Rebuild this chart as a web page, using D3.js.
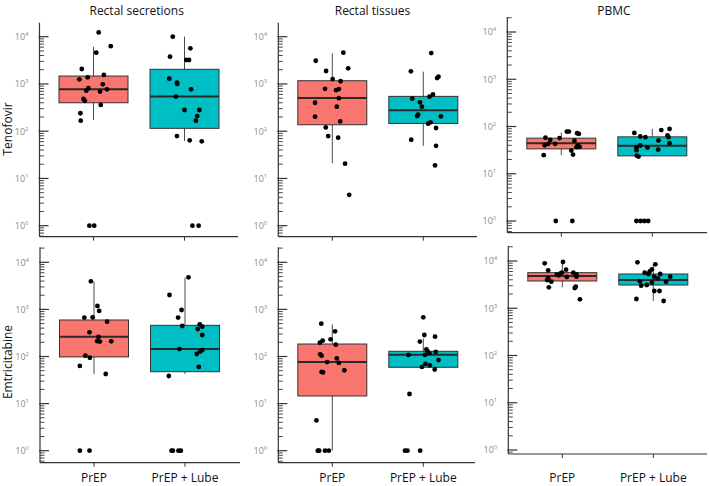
<!DOCTYPE html>
<html>
<head>
<meta charset="utf-8">
<script src="https://cdn.jsdelivr.net/npm/d3@7"></script>
<style>
  html, body { margin: 0; padding: 0; background: #fff; }
  svg { display: block; font-family: "Open Sans", "DejaVu Sans", sans-serif; }
</style>
</head>
<body>
<svg id="chart" width="709" height="486"></svg>
<script>
// ---------- data ----------
const drugs = ["Tenofovir", "Emtricitabine"];
const compartments = ["Rectal secretions", "Rectal tissues", "PBMC"];
const groups = ["PrEP", "PrEP + Lube"];
const tickExponents = [0, 1, 2, 3, 4];

// values (box stats: [whiskerLow, q1, median, q3, whiskerHigh]); jitter as fraction of half box width
const tfvSecPrep = [12300, 6300, 4600, 2070, 1250, 1380, 1550, 980, 770, 810, 720, 690, 480, 440, 360, 240, 167, 1, 1];
const tfvSecPrepJit = [0.15, 0.50, 0.08, -0.34, -0.41, -0.17, 0.30, 0.27, 0.39, -0.15, -0.21, 0.19, -0.29, -0.25, 0.21, -0.38, -0.37, -0.12, 0.02];
const tfvSecPrepBox = [172, 400, 770, 1470, 6100];

const tfvSecLube = [10000, 3780, 5670, 3210, 3210, 1290, 1060, 1000, 770, 540, 281, 281, 209, 167, 79, 64, 61, 1, 1];
const tfvSecLubeJit = [-0.34, -0.42, 0.17, 0.05, 0.13, -0.44, -0.22, -0.21, 0.19, -0.25, 0, 0.43, 0.37, 0.33, -0.22, 0.15, 0.50, 0.23, 0.41];
const tfvSecLubeBox = [62, 115, 540, 2040, 10000];

const tfvTisPrep = [4590, 3100, 2140, 1880, 1270, 1140, 790, 780, 740, 500, 400, 330, 203, 161, 120, 79, 73, 20.5, 4.5];
const tfvTisPrepJit = [0.32, -0.48, 0.46, -0.18, 0.01, 0.24, -0.21, 0.19, 0.11, 0.19, -0.50, 0.13, -0.50, 0.23, -0.19, -0.12, 0.17, 0.37, 0.49];
const tfvTisPrepBox = [21, 137, 504, 1170, 4440];

const tfvTisLube = [4510, 1850, 1420, 1330, 600, 537, 487, 408, 330, 223, 209, 206, 154, 144, 117, 66, 49, 18.9];
const tfvTisLubeJit = [0.23, -0.36, 0.44, 0.40, 0.28, 0.18, -0.32, -0.10, -0.04, -0.15, -0.18, 0.51, 0.21, 0.14, 0.37, -0.35, 0.37, 0.34];
const tfvTisLubeBox = [49, 146, 276, 546, 1820];

const tfvPbmcPrep = [78, 78, 72, 70, 58, 57, 52, 50, 43, 43, 40, 40, 36.5, 37, 31, 24.7, 25.5, 1, 1];
const tfvPbmcPrepJit = [0.16, 0.22, 0.46, 0.51, -0.46, -0.05, -0.32, 0.38, -0.38, -0.18, -0.48, 0.48, 0.44, 0.53, 0.29, -0.51, 0.34, -0.16, 0.32];
const tfvPbmcPrepBox = [24.7, 33.6, 44.3, 56.6, 74.6];

const tfvPbmcLube = [89, 84, 73, 64.5, 59.4, 61.4, 59.4, 50.5, 44.3, 39.6, 35.9, 35.9, 32.5, 31.5, 24.3, 23.1, 1, 1, 1, 1];
const tfvPbmcLubeJit = [0.50, 0.26, -0.52, 0.44, 0.47, -0.35, -0.20, 0.18, 0.50, -0.35, -0.46, -0.14, 0.17, -0.46, -0.45, -0.40, -0.46, -0.34, -0.23, -0.12];
const tfvPbmcLubeBox = [23.9, 23.9, 38.9, 60.4, 89];

const ftcSecPrep = [3950, 1180, 930, 670, 680, 550, 326, 213, 207, 260, 210, 104, 94, 63, 42.5, 1, 1];
const ftcSecPrepJit = [-0.09, 0.10, 0.15, -0.28, -0.04, 0.38, -0.13, 0.09, 0.17, 0.13, 0.50, -0.25, -0.12, -0.41, 0.34, -0.41, -0.13];
const ftcSecPrepBox = [42.5, 98, 264, 596, 3880];

const ftcSecLube = [4800, 2020, 970, 670, 444, 482, 430, 384, 286, 144, 137, 127, 113, 60, 38.5, 1, 1, 1, 1];
const ftcSecLubeJit = [0.10, -0.45, -0.10, -0.20, -0.08, 0.43, 0.50, 0.37, 0.50, -0.16, 0.50, 0.44, 0.34, 0.40, -0.47, -0.39, -0.35, -0.19, -0.12];
const ftcSecLubeBox = [42.5, 47.6, 144, 459, 4725];

const ftcTisPrep = [498, 217, 197, 232, 343, 178, 111, 104, 91, 76, 73, 51, 47, 46, 4.4, 1, 1, 1, 1];
const ftcTisPrepJit = [-0.32, -0.28, -0.36, -0.05, 0.08, 0.10, -0.35, -0.31, 0.13, -0.15, 0.19, 0.35, -0.31, -0.27, -0.46, -0.42, -0.38, -0.21, -0.10];
const ftcTisPrepBox = [1, 14.5, 76, 184, 482];

const ftcTisLube = [679, 286, 264, 207, 142, 127, 117, 125, 108, 108, 84, 70, 65, 60, 53, 16, 1, 1, 1];
const ftcTisLubeJit = [0, 0.03, 0.34, -0.10, 0.09, 0.13, 0.18, 0.36, -0.43, 0.05, 0.44, 0.06, 0.19, -0.04, 0.33, -0.40, -0.53, -0.46, -0.09];
const ftcTisLubeBox = [59, 59, 109, 129, 243];

const ftcPbmcPrep = [9520, 8930, 6340, 5140, 6560, 5480, 5660, 4975, 5660, 5220, 4585, 4660, 4300, 3960, 3655, 2865, 2685, 2773, 1545];
const ftcPbmcPrepJit = [0.02, -0.51, -0.41, -0.16, 0.11, -0.05, -0.01, -0.10, 0.32, 0.41, 0.13, 0.41, -0.41, -0.44, -0.32, 0.39, 0.36, -0.39, 0.51];
const ftcPbmcPrepBox = [2773, 3775, 4815, 5664, 9370];

const ftcPbmcLube = [9370, 8500, 6665, 6040, 5664, 5310, 5310, 4660, 4660, 4300, 3715, 3475, 3655, 3005, 3105, 2317, 2317, 1570, 1423];
const ftcPbmcLubeJit = [-0.46, 0.06, -0.04, -0.10, -0.25, 0.20, -0.14, 0.02, 0.49, 0.13, -0.39, -0.04, 0.37, -0.35, -0.19, 0.03, 0.18, -0.49, 0.30];
const ftcPbmcLubeBox = [1423, 3105, 3963, 5310, 8230];

const groupColors = ["#F8766D", "#00BFC4"];

// ---------- layout ----------
const panelData = [
  [[tfvSecPrep, tfvSecPrepJit, tfvSecPrepBox], [tfvSecLube, tfvSecLubeJit, tfvSecLubeBox]],
  [[tfvTisPrep, tfvTisPrepJit, tfvTisPrepBox], [tfvTisLube, tfvTisLubeJit, tfvTisLubeBox]],
  [[tfvPbmcPrep, tfvPbmcPrepJit, tfvPbmcPrepBox], [tfvPbmcLube, tfvPbmcLubeJit, tfvPbmcLubeBox]],
  [[ftcSecPrep, ftcSecPrepJit, ftcSecPrepBox], [ftcSecLube, ftcSecLubeJit, ftcSecLubeBox]],
  [[ftcTisPrep, ftcTisPrepJit, ftcTisPrepBox], [ftcTisLube, ftcTisLubeJit, ftcTisLubeBox]],
  [[ftcPbmcPrep, ftcPbmcPrepJit, ftcPbmcPrepBox], [ftcPbmcLube, ftcPbmcLubeJit, ftcPbmcLubeBox]]
];
// pixel geometry of each panel: axis x, axis end, top, y(10^4), y(10^0), bottom
const panelGeom = [
  {ax: 39.5,  xEnd: 238, top: 22.7, y4: 36.7, y0: 225.7, bot: 236.7},
  {ax: 278.3, xEnd: 477, top: 22.7, y4: 36.7, y0: 225.7, bot: 236.7},
  {ax: 507.3, xEnd: 707, top: 17,   y4: 32.0, y0: 221.0, bot: 232.7},
  {ax: 40,    xEnd: 240, top: 247.3, y4: 262.3, y0: 450.7, bot: 462.7},
  {ax: 278.3, xEnd: 475, top: 247.3, y4: 262.3, y0: 450.7, bot: 462.7},
  {ax: 508.3, xEnd: 707, top: 246,  y4: 261.0, y0: 450.0, bot: 454}
];
const halfBox = 34.5;

const svg = d3.select("#chart");

panelData.forEach((pd, i) => {
  const g = panelGeom[i];
  const dec = (g.y0 - g.y4) / 4;
  const loExp = -(g.bot - g.y0) / dec;
  const hiExp = 4 + (g.y4 - g.top) / dec;
  const y = d3.scaleLog().domain([Math.pow(10, loExp), Math.pow(10, hiExp)]).range([g.bot, g.top]);
  const x = d3.scalePoint().domain(groups).range([g.ax + 54, g.ax + 145]);
  const pg = svg.append("g");

  // boxes
  groups.forEach((grp, gi) => {
    const [vals, jit, box] = pd[gi];
    const cx = x(grp);
    pg.append("line")
      .attr("x1", cx).attr("x2", cx)
      .attr("y1", y(box[0])).attr("y2", y(box[4]))
      .attr("stroke", "#4d4d4d").attr("stroke-width", 1);
    pg.append("rect")
      .attr("x", cx - halfBox).attr("width", halfBox * 2)
      .attr("y", y(box[3])).attr("height", Math.max(1, y(box[1]) - y(box[3])))
      .attr("fill", groupColors[gi]).attr("stroke", "#333").attr("stroke-width", 1);
    pg.append("line")
      .attr("x1", cx - halfBox).attr("x2", cx + halfBox)
      .attr("y1", y(box[2])).attr("y2", y(box[2]))
      .attr("stroke", "#2a2a2a").attr("stroke-width", 2);
    pg.selectAll(null).data(vals.map((v, k) => ({v, j: jit[k]}))).enter()
      .append("circle")
      .attr("cx", d => cx + d.j * halfBox)
      .attr("cy", d => y(d.v))
      .attr("r", 2.4)
      .attr("fill", "#000");
  });

  // y axis line
  pg.append("line").attr("x1", g.ax).attr("x2", g.ax).attr("y1", g.top).attr("y2", g.bot)
    .attr("stroke", "#333").attr("stroke-width", 1.2);
  // minor ticks
  const dom = y.domain();
  const minor = [];
  for (let e = -1; e <= 5; e++) for (let m = 2; m <= 9; m++) {
    const v = m * Math.pow(10, e);
    if (v >= dom[0] && v <= dom[1]) minor.push(v);
  }
  pg.selectAll(null).data(minor).enter().append("line")
    .attr("x1", g.ax).attr("x2", g.ax + 4.5)
    .attr("y1", d => y(d)).attr("y2", d => y(d))
    .attr("stroke", "#333").attr("stroke-width", 0.9);
  // major ticks and labels
  tickExponents.forEach(e => {
    const yy = y(Math.pow(10, e));
    pg.append("line").attr("x1", g.ax - 1).attr("x2", g.ax + 9)
      .attr("y1", yy).attr("y2", yy).attr("stroke", "#333").attr("stroke-width", 1.2);
    const t = pg.append("text").attr("x", g.ax - 11).attr("y", yy + 3.3)
      .attr("text-anchor", "end").attr("fill", "#8a8a8a").attr("font-size", 9);
    t.append("tspan").text("10");
    t.append("tspan").attr("font-size", 6).attr("dy", -4).text(e);
  });

  // x axis
  pg.append("line").attr("x1", g.ax).attr("x2", g.xEnd).attr("y1", g.bot).attr("y2", g.bot)
    .attr("stroke", "#333").attr("stroke-width", 1.2);
  groups.forEach(grp => {
    pg.append("line").attr("x1", x(grp)).attr("x2", x(grp))
      .attr("y1", g.bot).attr("y2", g.bot + 4).attr("stroke", "#333").attr("stroke-width", 1);
  });
  if (i >= 3) {
    groups.forEach(grp => {
      pg.append("text").attr("x", x(grp)).attr("y", 481.5)
        .attr("text-anchor", "middle").attr("font-size", 12).attr("fill", "#111").text(grp);
    });
  }
});

// titles
const titleX = [136.7, 372.5, 614];
compartments.forEach((c, i) => {
  svg.append("text").attr("x", titleX[i]).attr("y", 14.5)
    .attr("text-anchor", "middle").attr("font-size", 12).attr("fill", "#111").text(c);
});
const drugY = [129, 362];
drugs.forEach((d, i) => {
  svg.append("text").attr("transform", `translate(12,${drugY[i]}) rotate(-90)`)
    .attr("text-anchor", "middle").attr("font-size", 12).attr("fill", "#111").text(d);
});
</script>
</body>
</html>
